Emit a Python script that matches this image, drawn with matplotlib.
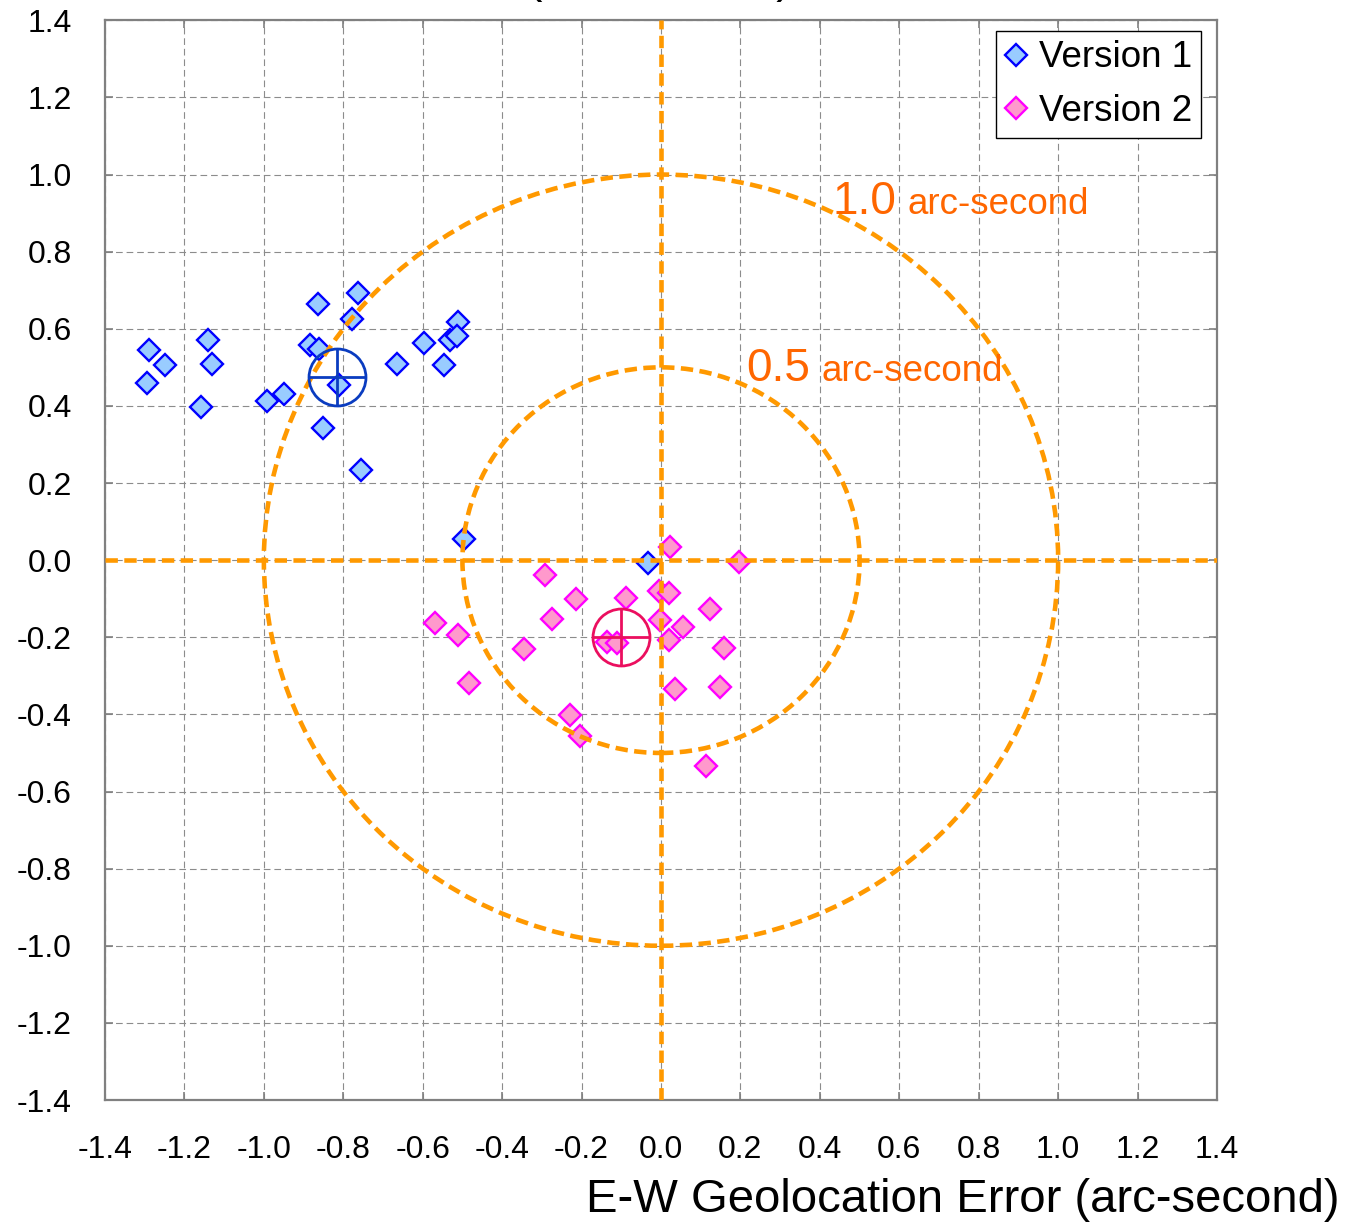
import numpy as np
import matplotlib
matplotlib.use("Agg")
import matplotlib.pyplot as plt
from matplotlib.patches import Circle

plt.rcParams['font.family'] = ['Liberation Sans', 'DejaVu Sans']
plt.rcParams['axes.unicode_minus'] = False

# ---- data (arc-second) ----
v1_x = [-1.290, -1.248, -1.293, -1.141, -1.130, -1.158, -0.992, -0.950,
        -0.863, -0.764, -0.779, -0.883, -0.861, -0.811, -0.850, -0.755,
        -0.666, -0.597, -0.546, -0.511, -0.531, -0.513, -0.495, -0.032]
v1_y = [0.544, 0.507, 0.460, 0.570, 0.509, 0.396, 0.413, 0.432,
        0.665, 0.693, 0.626, 0.559, 0.547, 0.453, 0.342, 0.234,
        0.509, 0.562, 0.507, 0.617, 0.572, 0.582, 0.055, -0.008]

v2_x = [0.023, 0.196, -0.089, -0.005, 0.020, 0.124, -0.003, 0.056,
        0.020, 0.159, -0.135, -0.110, 0.036, 0.148, 0.114, -0.292,
        -0.213, -0.275, -0.569, -0.512, -0.345, -0.484, -0.229, -0.204]
v2_y = [0.034, -0.006, -0.099, -0.080, -0.085, -0.126, -0.156, -0.173,
        -0.207, -0.229, -0.213, -0.214, -0.335, -0.329, -0.533, -0.039,
        -0.102, -0.152, -0.162, -0.193, -0.230, -0.318, -0.401, -0.457]

v1_mean = (-0.816, 0.476)
v2_mean = (-0.101, -0.198)

radii = [1.0, 0.5]
radius_labels = ["1.0", "0.5"]
ticks = [-1.4, -1.2, -1.0, -0.8, -0.6, -0.4, -0.2, 0.0, 0.2, 0.4, 0.6, 0.8, 1.0, 1.2, 1.4]

W, H = 1346, 1225
fig = plt.figure(figsize=(W / 100, H / 100), dpi=100)
ax = fig.add_axes([105 / W, 1 - 1100 / H, (1217 - 105) / W, (1100 - 20.3) / H])

ax.set_xlim(-1.4, 1.4)
ax.set_ylim(-1.4, 1.4)
ax.set_xticks(ticks)
ax.set_yticks(ticks)
ax.set_xticklabels([f"{t:.1f}" for t in ticks])
ax.set_yticklabels([f"{t:.1f}" for t in ticks])
ax.tick_params(direction='in', length=6, width=1.2, color='#808080',
               top=True, right=True, labelsize=23)
ax.tick_params(axis='y', pad=24)
ax.tick_params(axis='x', pad=25)
for s in ax.spines.values():
    s.set_color('#808080')
    s.set_linewidth(1.6)

ax.grid(True, color='#8c8c8c', linestyle=(0, (6, 3.5)), linewidth=0.8, zorder=0)
ax.set_axisbelow(True)

orange = '#FF9900'
dash = (0, (2.7, 1.4))
ax.axhline(0, color=orange, lw=3.3, linestyle=dash, zorder=4)
ax.axvline(0, color=orange, lw=3.3, linestyle=dash, zorder=4)
for r in radii:
    ax.add_patch(Circle((0, 0), r, fill=False, edgecolor=orange, lw=3.3,
                        linestyle=dash, zorder=4))

ax.plot(v1_x, v1_y, linestyle='none', marker='D', ms=11.2, mfc='#99CCFF',
        mec='#0000FF', mew=1.7, zorder=3, label='Version 1')
ax.plot(v2_x, v2_y, linestyle='none', marker='D', ms=11.2, mfc='#FF99CC',
        mec='#FF00FF', mew=1.7, zorder=3, label='Version 2')

for (mx, my), col in [(v1_mean, '#0A3CC0'), (v2_mean, '#EB0F5F')]:
    ax.plot([mx], [my], marker='o', ms=41, mfc='none', mec=col, mew=2.0,
            linestyle='none', zorder=5)
    ax.plot([mx], [my], marker='+', ms=41, mec=col, mew=2.0,
            linestyle='none', zorder=5)

tcol = '#FF6600'
ax.text(0.431, 0.898, radius_labels[0], color=tcol, fontsize=33,
        ha='left', va='baseline', zorder=6)
ax.text(0.620, 0.898, "arc-second", color=tcol, fontsize=26.5,
        ha='left', va='baseline', zorder=6)
ax.text(0.214, 0.4635, radius_labels[1], color=tcol, fontsize=33,
        ha='left', va='baseline', zorder=6)
ax.text(0.405, 0.4635, "arc-second", color=tcol, fontsize=26.5,
        ha='left', va='baseline', zorder=6)

leg = ax.legend(loc='upper right', bbox_to_anchor=((1201 - 105) / 1112, (1100 - 31) / 1080),
                borderaxespad=0, fontsize=26.5, frameon=True, fancybox=False,
                framealpha=1, edgecolor='black', handlelength=0.6,
                handletextpad=0.3, borderpad=0.25, labelspacing=0.5)
leg.get_frame().set_linewidth(1.0)

fig.text(1340 / W, 1 - 1212 / H, "E-W Geolocation Error (arc-second)",
         fontsize=34, ha='right', va='baseline')
fig.text(792 / W, 1 + 8 / H, "N-S Geolocation Error (arc-second)",
         fontsize=34, ha='right', va='baseline')

fig.savefig("out.png", dpi=100)
